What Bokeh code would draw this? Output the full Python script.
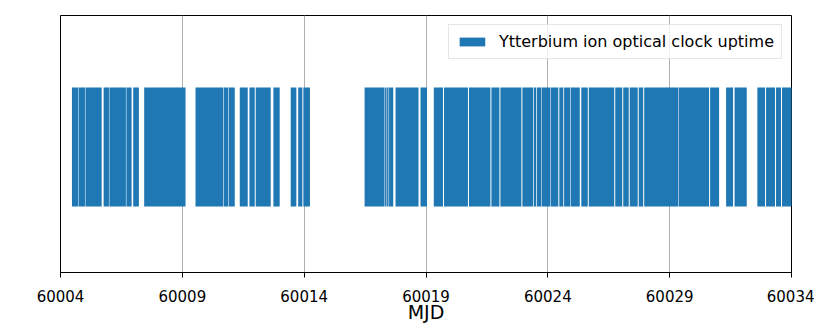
from bokeh.plotting import figure
from bokeh.models import Range1d, FixedTicker, BasicTickFormatter, ColumnDataSource, Legend, LegendItem
from bokeh.embed import file_html
from bokeh.resources import INLINE

# Uptime intervals (MJD)
starts = [60004.47, 60004.738, 60005.025, 60005.77, 60006.008, 60006.705, 60006.984, 60007.434,
          60009.541, 60010.701, 60010.906, 60011.357, 60011.754, 60012.012, 60012.738, 60013.447,
          60013.754, 60013.967, 60016.48, 60017.32, 60017.402, 60017.484, 60017.75, 60018.775,
          60019.32, 60019.738, 60020.762, 60021.684, 60022.053, 60022.955, 60023.426, 60023.549,
          60023.754, 60024.123, 60024.471, 60024.668, 60024.943, 60025.373, 60025.68, 60026.766,
          60027.094, 60027.361, 60027.73, 60027.955, 60029.369, 60030.66, 60031.316, 60031.664,
          60032.598, 60032.955, 60033.365, 60033.611]
ends = [60004.717, 60005.004, 60005.689, 60005.988, 60006.684, 60006.918, 60007.217, 60009.131,
        60010.68, 60010.885, 60011.152, 60011.684, 60011.971, 60012.627, 60012.996, 60013.68,
        60013.926, 60014.238, 60017.299, 60017.381, 60017.463, 60017.656, 60018.693, 60019.041,
        60019.697, 60020.721, 60021.643, 60022.012, 60022.914, 60023.398, 60023.52, 60023.734,
        60024.102, 60024.43, 60024.635, 60024.922, 60025.311, 60025.639, 60026.725, 60027.053,
        60027.32, 60027.689, 60027.914, 60029.348, 60030.619, 60031.029, 60031.602, 60032.164,
        60032.914, 60033.324, 60033.57, 60034.3]
x_ticks = [60004, 60009, 60014, 60019, 60024, 60029, 60034]
series_label = "Ytterbium ion optical clock uptime"

bar_bottom = 0.257
bar_top = 0.72

src = ColumnDataSource(dict(left=starts, right=ends,
                            bottom=[bar_bottom] * len(starts), top=[bar_top] * len(starts)))

p = figure(width=814, height=325, output_backend="svg", toolbar_location=None,
           x_range=Range1d(60004, 60034), y_range=Range1d(0, 1),
           min_border_left=60, min_border_right=23, min_border_top=15, min_border_bottom=10)

r = p.quad(left="left", right="right", bottom="bottom", top="top", source=src,
           fill_color="#1f77b4", line_color=None)

p.xaxis.ticker = FixedTicker(ticks=x_ticks)
p.xaxis.formatter = BasicTickFormatter(use_scientific=False)
p.xaxis.major_label_text_font = "DejaVu Sans"
p.xaxis.major_label_text_font_size = "15px"
p.xaxis.major_label_text_color = "black"
p.xaxis.axis_label = "MJD"
p.xaxis.axis_label_text_font = "DejaVu Sans"
p.xaxis.axis_label_text_font_size = "19px"
p.xaxis.axis_label_text_font_style = "normal"
p.xaxis.axis_label_text_color = "black"
p.xaxis.axis_label_standoff = -4
p.xaxis.major_tick_out = 5
p.xaxis.major_tick_in = 0
p.xaxis.minor_tick_out = 0
p.xaxis.minor_tick_in = 0
p.xaxis.axis_line_color = "black"
p.xaxis.major_tick_line_color = "black"
p.xaxis.major_label_standoff = 12

p.yaxis.visible = False
p.ygrid.visible = False
p.xgrid.grid_line_color = "#b0b0b0"
p.xgrid.grid_line_width = 1

p.outline_line_color = "black"
p.outline_line_width = 1
p.outline_line_alpha = 1

legend = Legend(items=[LegendItem(label=series_label, renderers=[r])], location="top_right")
legend.label_text_font = "DejaVu Sans"
legend.label_text_font_size = "16px"
legend.label_text_color = "black"
legend.glyph_width = 32
legend.glyph_height = 11
legend.border_line_color = "#cccccc"
legend.border_line_width = 1
legend.background_fill_alpha = 0.8
legend.margin = 9
legend.padding = 7
legend.spacing = 0
legend.label_standoff = 11
p.add_layout(legend)

open("out.html", "w").write(file_html(p, INLINE))
